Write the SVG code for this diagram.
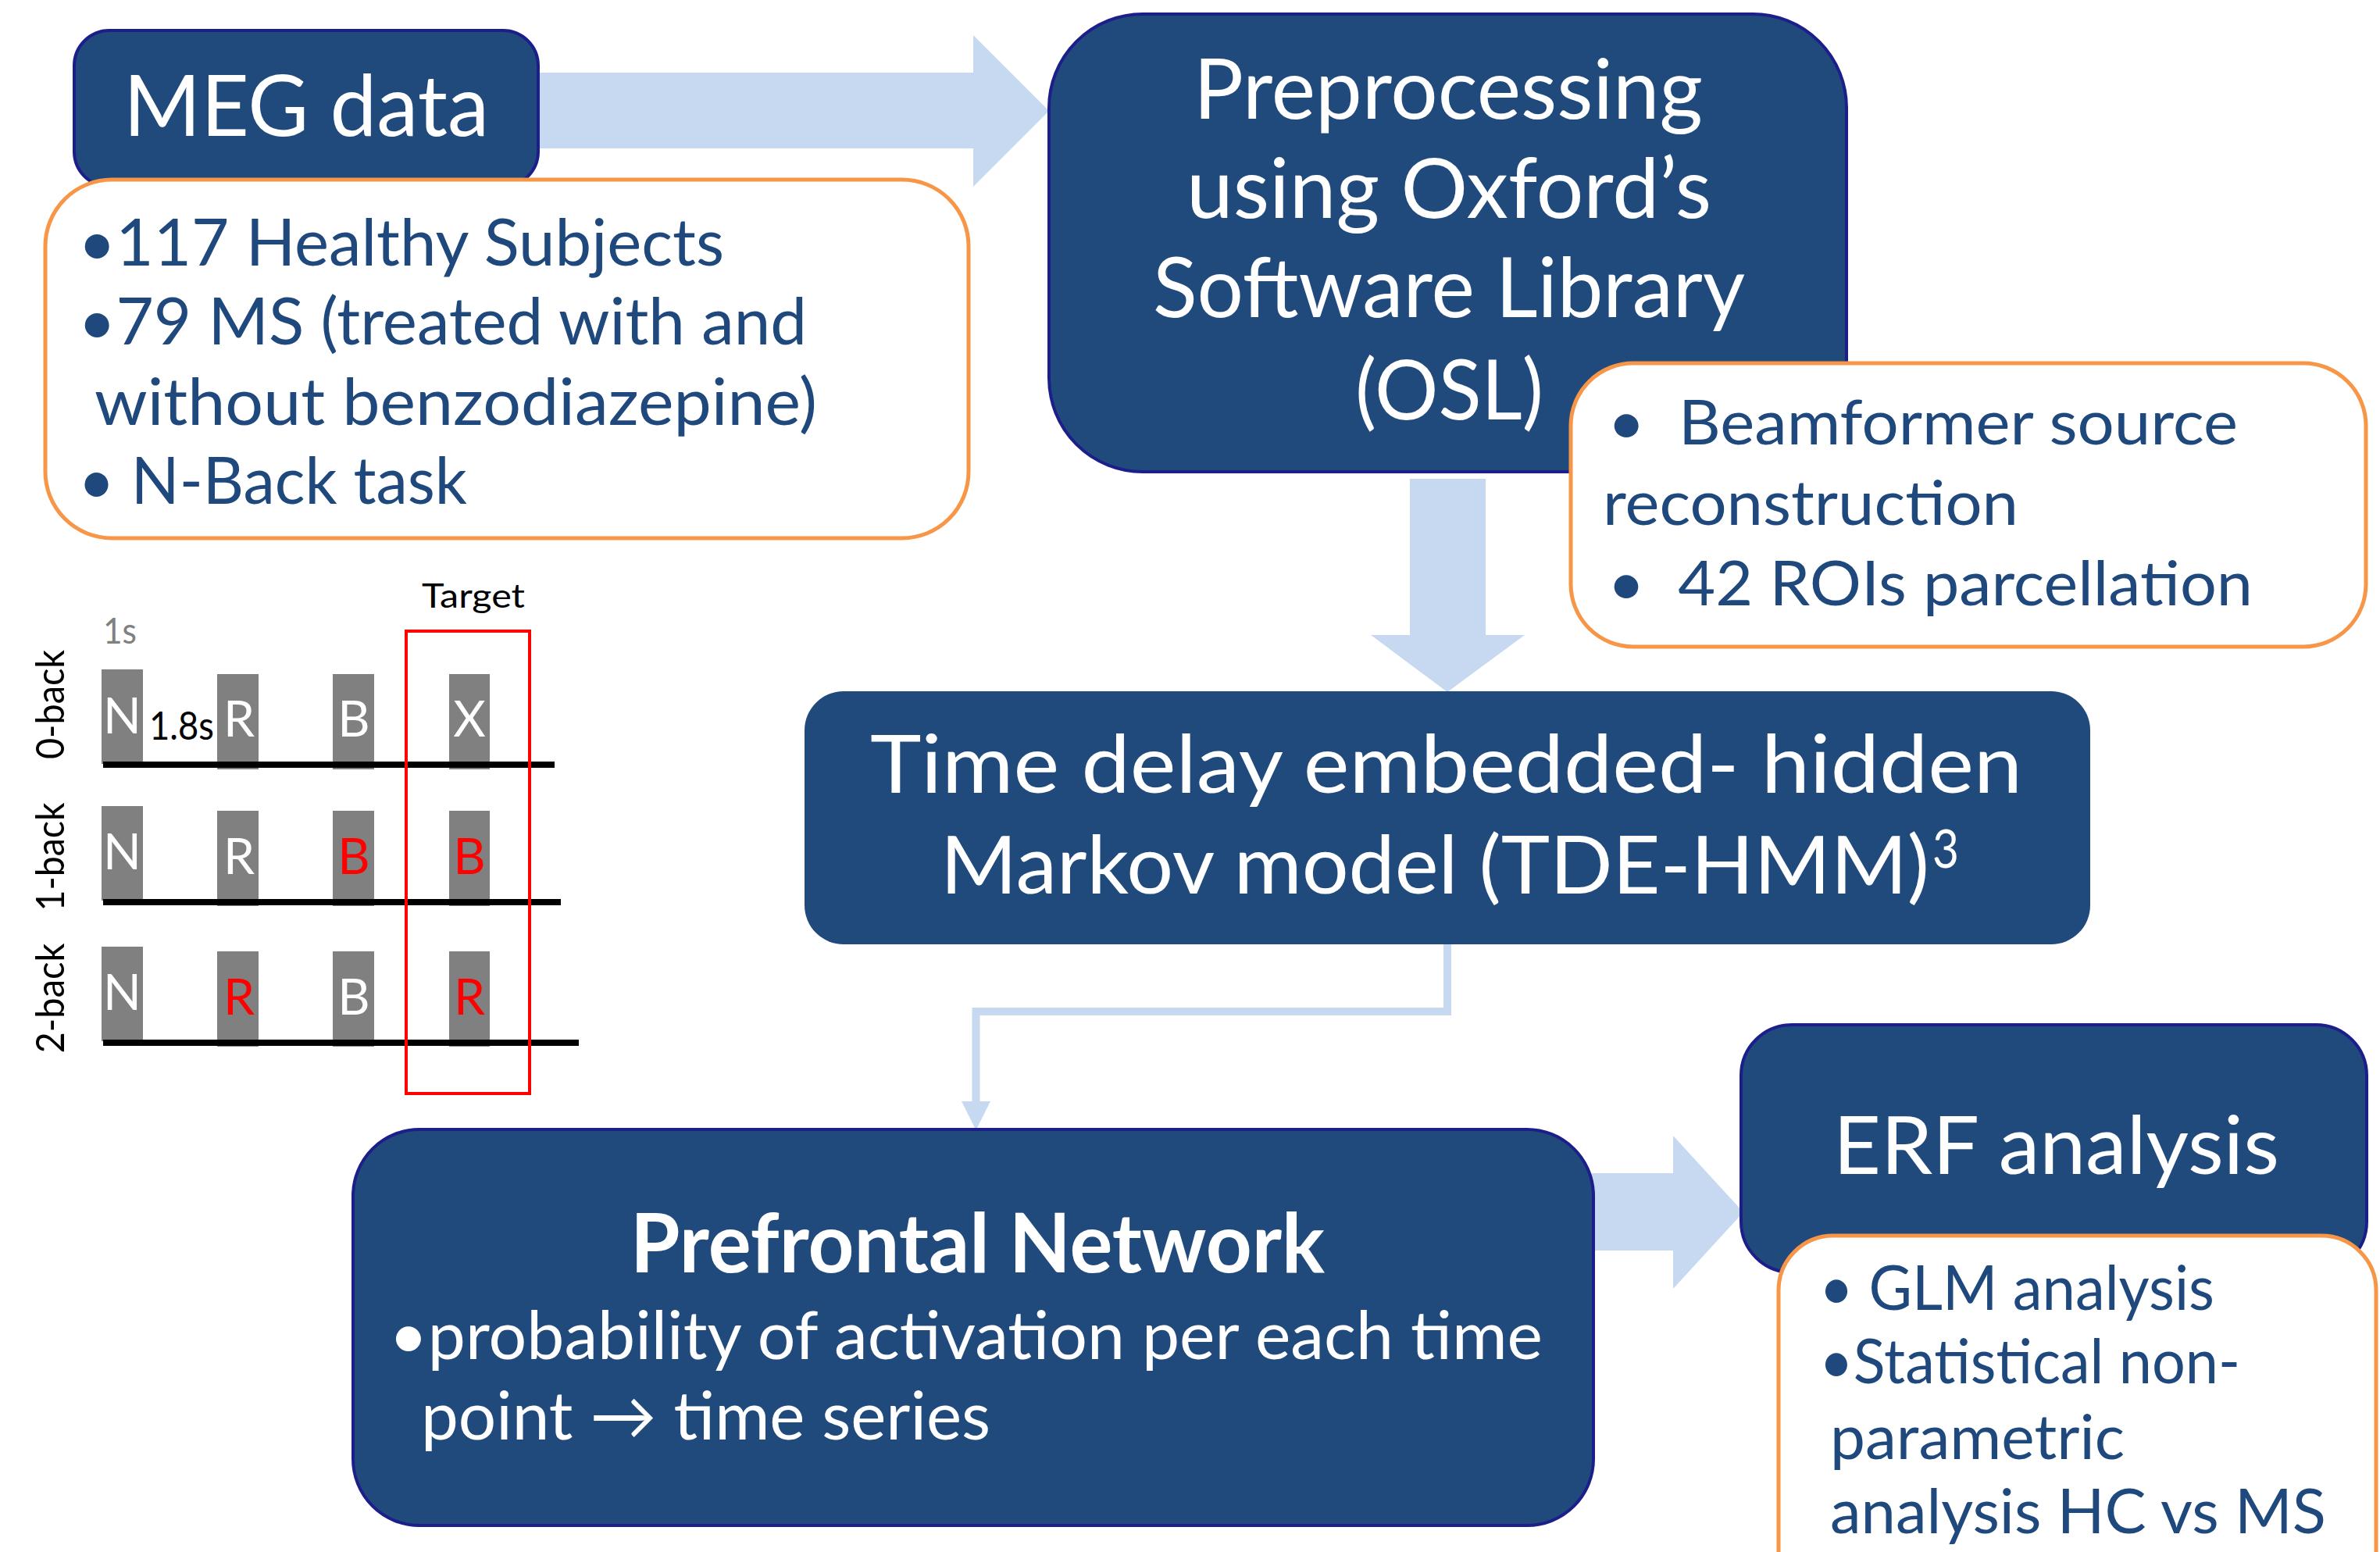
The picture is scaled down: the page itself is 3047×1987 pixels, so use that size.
<svg xmlns="http://www.w3.org/2000/svg" width="3047" height="1987" viewBox="0 0 3047 1987">
<style>
.dark{fill:#214A7C;stroke:#1C1F8A;stroke-width:4}
.note{fill:#FFFFFF;stroke:#F79646;stroke-width:5}
.arrow{fill:#C6D9F1;stroke:none}
.wt{fill:#FFFFFF;font-family:"Lato","Open Sans",sans-serif}
.bt{fill:#1F497D;font-family:"Lato","Open Sans",sans-serif}
.nb{font-family:"Lato","Open Sans",sans-serif}
.stim{fill:#808080}
.letter{fill:#FFFFFF;font-size:64px;text-anchor:middle;font-family:"Lato","Open Sans",sans-serif}
.red{fill:#FF0000}
.tl{stroke:#000000;stroke-width:8;fill:none}
</style>
<rect width="3047" height="1987" fill="#FFFFFF"/>

<g id="connectors">
  <polygon class="arrow" points="680,93 1246,93 1246,45 1343,142 1246,239 1246,190 680,190"/>
  <polygon class="arrow" points="1805,613 1902,613 1902,813 1952,813 1853,886 1755,813 1805,813"/>
  <polygon class="arrow" points="2030,1502 2142,1502 2142,1454 2232,1552 2142,1650 2142,1601 2030,1601"/>
  <path d="M1853,1205 V1295 H1249.5 V1414" fill="none" stroke="#C6D9F1" stroke-width="10"/>
  <polygon class="arrow" points="1231,1410 1268,1410 1249.5,1447"/>
</g>

<g id="meg-data">
  <rect class="dark" x="95" y="39" width="594" height="200" rx="45"/>
  <text class="wt" x="158" y="174" font-size="109" textLength="468" lengthAdjust="spacingAndGlyphs">MEG data</text>
</g>

<g id="meg-details">
  <rect class="note" x="58" y="230" width="1182" height="459" rx="85"/>
  <text class="bt" x="100" y="340" font-size="84" textLength="827" lengthAdjust="spacingAndGlyphs">•117 Healthy Subjects</text>
  <text class="bt" x="100" y="441" font-size="84" textLength="933" lengthAdjust="spacingAndGlyphs">•79 MS (treated with and</text>
  <text class="bt" x="121" y="544" font-size="84" textLength="925" lengthAdjust="spacingAndGlyphs">without benzodiazepine)</text>
  <text class="bt" x="100" y="645" font-size="84" textLength="498" lengthAdjust="spacingAndGlyphs">• N-Back task</text>
</g>

<g id="preprocessing">
  <rect class="dark" x="1343" y="18" width="1021" height="586" rx="120"/>
  <text class="wt" x="1528" y="152" font-size="106" textLength="652" lengthAdjust="spacingAndGlyphs">Preprocessing</text>
  <text class="wt" x="1519" y="279" font-size="106" textLength="672" lengthAdjust="spacingAndGlyphs">using Oxford’s</text>
  <text class="wt" x="1476" y="406" font-size="106" textLength="758" lengthAdjust="spacingAndGlyphs">Software Library</text>
  <text class="wt" x="1735" y="537" font-size="106" textLength="241" lengthAdjust="spacingAndGlyphs">(OSL)</text>
</g>

<g id="preprocessing-details">
  <rect class="note" x="2011" y="465" width="1018" height="363" rx="80"/>
  <text class="bt" x="2058" y="569" font-size="80" textLength="807" lengthAdjust="spacingAndGlyphs" xml:space="preserve">•  Beamformer source</text>
  <text class="bt" x="2052" y="672" font-size="80" textLength="532" lengthAdjust="spacingAndGlyphs">reconstruction</text>
  <text class="bt" x="2058" y="775" font-size="80" textLength="826" lengthAdjust="spacingAndGlyphs" xml:space="preserve">•  42 ROIs parcellation</text>
</g>

<g id="tde-hmm">
  <rect x="1030" y="885" width="1646" height="324" rx="50" fill="#214A7C"/>
  <text class="wt" x="1114" y="1015" font-size="103" textLength="1475" lengthAdjust="spacingAndGlyphs">Time delay embedded- hidden</text>
  <text class="wt" x="1204" y="1144" font-size="103" textLength="1266" lengthAdjust="spacingAndGlyphs">Markov model (TDE-HMM)</text>
  <text class="wt" x="2474" y="1111" font-size="68" textLength="34" lengthAdjust="spacingAndGlyphs">3</text>
</g>

<g id="prefrontal-network">
  <rect class="dark" x="452" y="1446" width="1588" height="507" rx="85"/>
  <text class="wt" x="807" y="1629" font-size="106" font-weight="bold" textLength="889" lengthAdjust="spacingAndGlyphs">Prefrontal Network</text>
  <text class="wt" x="498" y="1740" font-size="86" textLength="1477" lengthAdjust="spacingAndGlyphs">•probability of activation per each time</text>
  <text class="wt" x="539" y="1843" font-size="86" textLength="729" lengthAdjust="spacingAndGlyphs">point → time series</text>
</g>

<g id="erf-analysis">
  <rect class="dark" x="2229" y="1312" width="801" height="317" rx="65"/>
  <text class="wt" x="2347" y="1503" font-size="103" textLength="571" lengthAdjust="spacingAndGlyphs">ERF analysis</text>
</g>

<g id="erf-details">
  <rect class="note" x="2277" y="1582" width="765" height="480" rx="70"/>
  <text class="bt" x="2329" y="1677" font-size="80" textLength="506" lengthAdjust="spacingAndGlyphs">• GLM analysis</text>
  <text class="bt" x="2329" y="1771" font-size="80" textLength="539" lengthAdjust="spacingAndGlyphs">•Statistical non-</text>
  <text class="bt" x="2343" y="1868" font-size="80" textLength="377" lengthAdjust="spacingAndGlyphs">parametric</text>
  <text class="bt" x="2343" y="1963" font-size="80" textLength="635" lengthAdjust="spacingAndGlyphs">analysis HC vs MS</text>
</g>

<g id="nback-task">
  <text class="nb" x="540" y="778" font-size="42" fill="#000000" textLength="132" lengthAdjust="spacingAndGlyphs">Target</text>
  <text class="nb" x="132" y="824" font-size="46" fill="#808080" textLength="43" lengthAdjust="spacingAndGlyphs">1s</text>
  <text class="nb" font-size="50" fill="#000000" text-anchor="middle" transform="translate(82,902) rotate(-90)" textLength="140" lengthAdjust="spacingAndGlyphs">0-back</text>
  <text class="nb" font-size="50" fill="#000000" text-anchor="middle" transform="translate(82,1097) rotate(-90)" textLength="139" lengthAdjust="spacingAndGlyphs">1-back</text>
  <text class="nb" font-size="50" fill="#000000" text-anchor="middle" transform="translate(82,1278) rotate(-90)" textLength="141" lengthAdjust="spacingAndGlyphs">2-back</text>

  <rect class="stim" x="130" y="857" width="53" height="121"/>
  <rect class="stim" x="278" y="863" width="53" height="122"/>
  <rect class="stim" x="426" y="863" width="53" height="122"/>
  <rect class="stim" x="575" y="863" width="52" height="122"/>
  <line class="tl" x1="132" y1="979" x2="710" y2="979"/>
  <text class="letter" x="156.5" y="939">N</text>
  <text class="letter" x="306" y="943">R</text>
  <text class="letter" x="453" y="943">B</text>
  <text class="letter" x="601" y="943">X</text>
  <text class="nb" x="191" y="947" font-size="50" fill="#000000" textLength="83" lengthAdjust="spacingAndGlyphs">1.8s</text>

  <rect class="stim" x="130" y="1032" width="53" height="121"/>
  <rect class="stim" x="278" y="1038" width="53" height="122"/>
  <rect class="stim" x="426" y="1038" width="53" height="122"/>
  <rect class="stim" x="575" y="1038" width="52" height="122"/>
  <line class="tl" x1="132" y1="1155" x2="718" y2="1155"/>
  <text class="letter" x="156.5" y="1113">N</text>
  <text class="letter" x="306" y="1119">R</text>
  <text class="letter red" x="453" y="1119">B</text>
  <text class="letter red" x="601" y="1119">B</text>

  <rect class="stim" x="130" y="1212" width="53" height="121"/>
  <rect class="stim" x="278" y="1218" width="53" height="122"/>
  <rect class="stim" x="426" y="1218" width="53" height="122"/>
  <rect class="stim" x="575" y="1218" width="52" height="122"/>
  <line class="tl" x1="132" y1="1335" x2="741" y2="1335"/>
  <text class="letter" x="156.5" y="1293">N</text>
  <text class="letter red" x="306" y="1299">R</text>
  <text class="letter" x="453" y="1299">B</text>
  <text class="letter red" x="601" y="1299">R</text>

  <rect x="520" y="808" width="158" height="592" fill="none" stroke="#FF0000" stroke-width="4"/>
</g>
</svg>
